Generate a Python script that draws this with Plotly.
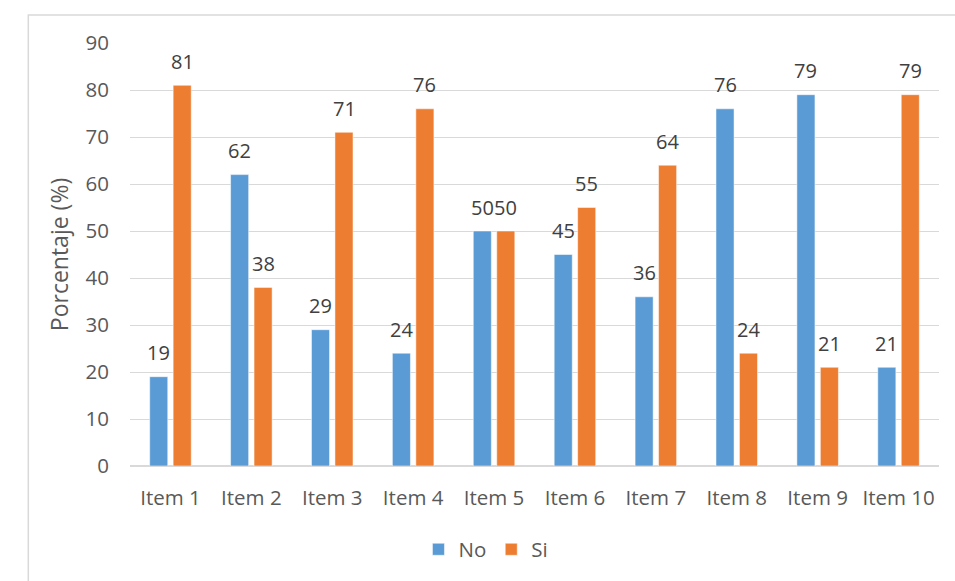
import plotly.graph_objects as go

# Survey answers per item, in percent
items = ["Item 1", "Item 2", "Item 3", "Item 4", "Item 5",
         "Item 6", "Item 7", "Item 8", "Item 9", "Item 10"]
no_vals = [19, 62, 29, 24, 50, 45, 36, 76, 79, 21]
si_vals = [81, 38, 71, 76, 50, 55, 64, 24, 21, 79]

y_ticks = [0, 10, 20, 30, 40, 50, 60, 70, 80, 90]

BLUE = "#5B9BD5"
ORANGE = "#ED7D31"
GRAY = "#595959"
FONT = "Open Sans"
SIZE = 20.5

fig = go.Figure()
fig.add_trace(go.Bar(name="No", x=items, y=no_vals, marker_color=BLUE,
                     marker_line=dict(color="white", width=0.5)))
fig.add_trace(go.Bar(name="Si", x=items, y=si_vals, marker_color=ORANGE,
                     marker_line=dict(color="white", width=0.5)))

# value labels above each bar
annotations = []
for series, shift in ((no_vals, -11.75), (si_vals, 11.75)):
    for i, v in enumerate(series):
        annotations.append(dict(
            x=i, y=v, xref="x", yref="y", text=f"{v:.0f}",
            showarrow=False, xshift=shift, yshift=24,
            font=dict(family=FONT, size=20, color="#404040"),
        ))

fig.update_layout(
    width=955, height=581,
    margin=dict(l=130, r=16, t=43, b=113),
    paper_bgcolor="white", plot_bgcolor="white",
    barmode="group", bargap=0.42, bargroupgap=0.23,
    font=dict(family=FONT, size=SIZE, color=GRAY),
    showlegend=True,
    legend=dict(orientation="h", x=0.44, xanchor="center", y=-0.15, yanchor="top",
                font=dict(family=FONT, size=SIZE, color=GRAY),
                itemwidth=30, traceorder="normal"),
    annotations=annotations,
    shapes=[dict(type="rect", xref="paper", yref="paper",
                 x0=-0.1257, x1=1.05, y0=-0.45, y1=1.066,
                 line=dict(color="#D9D9D9", width=1.5), layer="below")],
)
fig.update_xaxes(type="category", showline=False, showgrid=False,
                 ticks="", ticklabelstandoff=17,
                 tickfont=dict(family=FONT, size=SIZE, color=GRAY))
fig.update_yaxes(range=[0, 90], tickvals=y_ticks, showgrid=True,
                 gridcolor="#D9D9D9", gridwidth=1, zeroline=True,
                 zerolinecolor="#D9D9D9", zerolinewidth=1.5,
                 showline=False, ticks="", ticklabelstandoff=20,
                 tickfont=dict(family=FONT, size=SIZE, color=GRAY),
                 title=dict(text="Porcentaje (%)", standoff=10,
                            font=dict(family=FONT, size=23, color=GRAY)))

fig.write_html("out.html")
